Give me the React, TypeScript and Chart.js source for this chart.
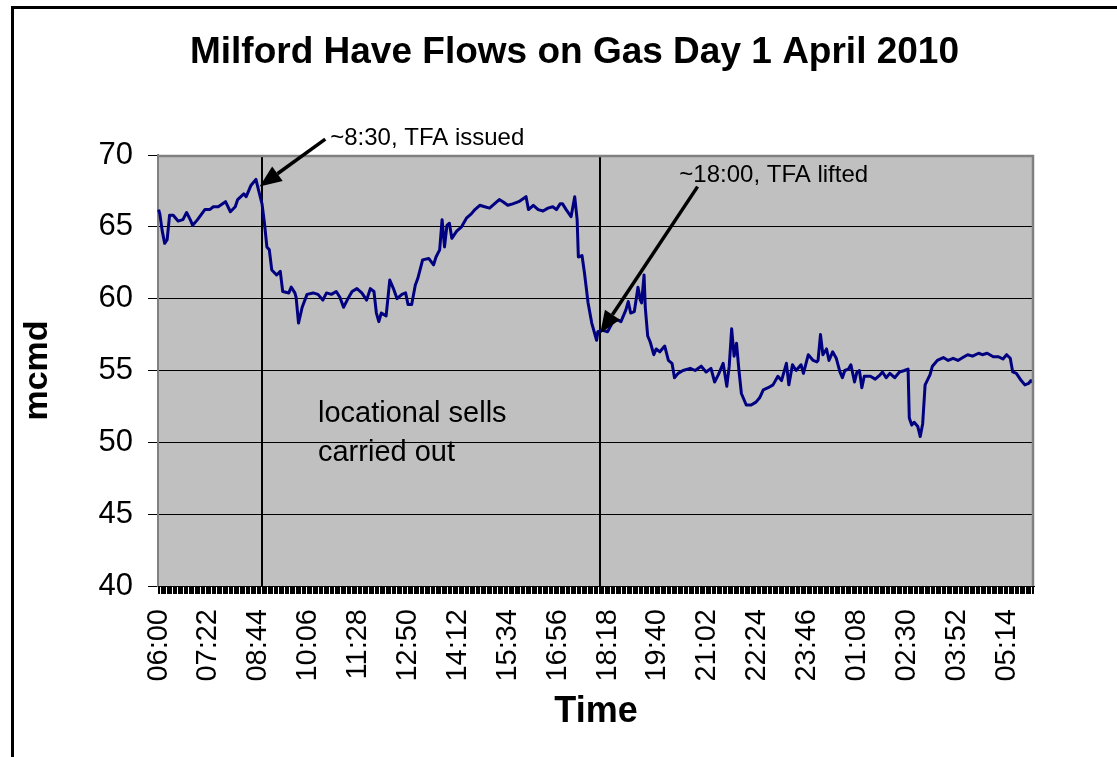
import React, { useEffect, useRef } from 'react';
import { Chart, registerables } from 'chart.js';

Chart.register(...registerables);

const FONT = '"Liberation Sans", Arial, Helvetica, sans-serif';

const chartTitle = 'Milford Have Flows on Gas Day 1 April 2010';
const yAxisTitle = 'mcmd';
const xAxisTitle = 'Time';
const yMin = 40;
const yMax = 70;
const yStep = 5;

// Visible tick labels on the category axis (every 82 minutes)
const tickLabels = [
  '06:00', '07:22', '08:44', '10:06', '11:28', '12:50', '14:12', '15:34', '16:56',
  '18:18', '19:40', '21:02', '22:24', '23:46', '01:08', '02:30', '03:52', '05:14',
];

function hhmm(m: number): string {
  const mm = ((m % 1440) + 1440) % 1440;
  return String(Math.floor(mm / 60)).padStart(2, '0') + ':' + String(mm % 60).padStart(2, '0');
}
// Gas day categories: 06:00 .. 05:58, one every 2 minutes
const categories: string[] = Array.from({ length: 720 }, (_, i) => hhmm(360 + 2 * i));

const sampleTimes = [
  '06:00', '06:02', '06:06', '06:10', '06:14', '06:18', '06:24', '06:32', '06:40', '06:46',
  '06:52', '06:56', '07:04', '07:16', '07:24', '07:30', '07:38', '07:50', '07:58', '08:06',
  '08:10', '08:20', '08:24', '08:32', '08:40', '08:44', '08:50', '08:54', '08:58', '09:02',
  '09:06', '09:14', '09:20', '09:24', '09:34', '09:38', '09:44', '09:46', '09:50', '09:56',
  '10:04', '10:14', '10:22', '10:30', '10:36', '10:44', '10:52', '10:58', '11:04', '11:10',
  '11:18', '11:26', '11:34', '11:42', '11:48', '11:54', '11:58', '12:02', '12:06', '12:14',
  '12:20', '12:26', '12:32', '12:40', '12:46', '12:50', '12:56', '13:02', '13:06', '13:14',
  '13:24', '13:32', '13:36', '13:42', '13:46', '13:50', '13:54', '13:58', '14:02', '14:10',
  '14:18', '14:26', '14:34', '14:40', '14:48', '14:56', '15:04', '15:12', '15:20', '15:26',
  '15:34', '15:42', '15:52', '16:04', '16:08', '16:16', '16:24', '16:32', '16:40', '16:48',
  '16:54', '17:00', '17:04', '17:10', '17:18', '17:24', '17:28', '17:30', '17:36', '17:40',
  '17:46', '17:52', '17:58', '18:00', '18:02', '18:10', '18:18', '18:28', '18:36', '18:40',
  '18:48', '18:52', '18:56', '19:02', '19:08', '19:12', '19:14', '19:18', '19:20', '19:24',
  '19:28', '19:34', '19:38', '19:44', '19:52', '19:58', '20:04', '20:08', '20:14', '20:22',
  '20:34', '20:42', '20:52', '21:00', '21:08', '21:14', '21:20', '21:28', '21:34', '21:38',
  '21:42', '21:46', '21:50', '21:54', '21:58', '22:06', '22:14', '22:22', '22:28', '22:34',
  '22:42', '22:50', '22:58', '23:04', '23:12', '23:16', '23:22', '23:28', '23:36', '23:40',
  '23:48', '23:56', '00:02', '00:04', '00:08', '00:12', '00:18', '00:22', '00:28', '00:34',
  '00:40', '00:44', '00:48', '00:54', '00:58', '01:04', '01:08', '01:12', '01:16', '01:20',
  '01:30', '01:38', '01:46', '01:50', '01:56', '02:02', '02:10', '02:18', '02:26', '02:32',
  '02:34', '02:38', '02:42', '02:48', '02:52', '02:56', '03:00', '03:08', '03:12', '03:20',
  '03:30', '03:38', '03:46', '03:54', '04:02', '04:10', '04:18', '04:28', '04:34', '04:42',
  '04:52', '05:00', '05:08', '05:14', '05:20', '05:24', '05:30', '05:38', '05:44', '05:50',
  '05:54', '05:58',
];

const flowMcmd = [
  66.2, 65.9, 64.7, 63.85, 64.1, 65.8, 65.8, 65.4, 65.5, 66.0,
  65.5, 65.1, 65.5, 66.2, 66.2, 66.4, 66.4, 66.75, 66.05, 66.4,
  66.9, 67.3, 67.1, 67.9, 68.3, 67.6, 66.6, 65.25, 63.6, 63.4,
  62.0, 61.65, 61.9, 60.5, 60.4, 60.8, 60.4, 60.1, 58.3, 59.4,
  60.3, 60.4, 60.3, 59.9, 60.4, 60.3, 60.5, 60.1, 59.4, 59.9,
  60.5, 60.7, 60.4, 59.9, 60.7, 60.5, 59.0, 58.4, 59.0, 58.8,
  61.3, 60.7, 60.0, 60.3, 60.4, 59.6, 59.6, 60.95, 61.4, 62.7,
  62.8, 62.35, 62.9, 63.4, 65.5, 63.6, 65.1, 65.25, 64.2, 64.7,
  65.0, 65.6, 65.9, 66.2, 66.5, 66.4, 66.3, 66.6, 66.9, 66.75,
  66.5, 66.6, 66.75, 67.1, 66.2, 66.5, 66.2, 66.1, 66.3, 66.4,
  66.2, 66.6, 66.6, 66.2, 65.7, 67.1, 65.5, 62.9, 63.0, 61.8,
  59.7, 58.3, 57.4, 57.1, 57.7, 57.8, 57.7, 58.5, 58.5, 58.4,
  59.2, 59.8, 59.0, 59.1, 60.8, 59.9, 59.7, 61.65, 59.4, 57.4,
  57.0, 56.1, 56.5, 56.3, 56.7, 55.7, 55.5, 54.5, 54.8, 55.0,
  55.15, 55.0, 55.3, 54.9, 55.15, 54.2, 54.7, 55.5, 53.9, 55.3,
  57.9, 56.0, 56.9, 55.0, 53.4, 52.6, 52.6, 52.8, 53.1, 53.65,
  53.8, 54.0, 54.6, 54.3, 55.5, 54.0, 55.4, 55.0, 55.4, 54.8,
  56.1, 55.7, 55.6, 55.7, 57.5, 56.1, 56.5, 55.7, 56.3, 55.85,
  54.9, 54.5, 55.0, 55.1, 55.4, 54.2, 54.9, 55.0, 53.8, 54.6,
  54.6, 54.4, 54.7, 54.9, 54.5, 54.8, 54.5, 54.9, 55.0, 55.1,
  51.7, 51.2, 51.4, 51.1, 50.4, 51.3, 54.0, 54.7, 55.3, 55.7,
  55.9, 55.7, 55.85, 55.7, 55.9, 56.1, 56.0, 56.2, 56.1, 56.2,
  55.96, 55.96, 55.8, 56.1, 55.85, 54.9, 54.8, 54.3, 54.0, 54.1,
  54.3, 54.15,
];

// Event markers (vertical lines) and notes, anchored in data coordinates
const markerTimes = ['08:50', '18:06'];
const arrowNotes = [
  { text: '~8:30, TFA issued', textTime: '10:42', textValue: 70.7, fromTime: '10:34', fromValue: 71.1, toTime: '08:46', toValue: 67.8 },
  { text: '~18:00, TFA lifted', textTime: '20:16', textValue: 68.14, fromTime: '20:46', fromValue: 67.8, toTime: '18:06', toValue: 57.6 },
];
const bodyNoteLines = ['locational sells', 'carried out'];
const bodyNoteTime = '10:22';
const bodyNoteValues = [51.42, 48.71];

function drawArrow(ctx: CanvasRenderingContext2D, x1: number, y1: number, x2: number, y2: number) {
  const head = 22;
  const half = 9;
  const ang = Math.atan2(y2 - y1, x2 - x1);
  const bx = x2 - head * Math.cos(ang);
  const by = y2 - head * Math.sin(ang);
  ctx.lineWidth = 3.5;
  ctx.beginPath();
  ctx.moveTo(x1, y1);
  ctx.lineTo(bx, by);
  ctx.stroke();
  ctx.beginPath();
  ctx.moveTo(x2, y2);
  ctx.lineTo(bx + half * Math.sin(ang), by - half * Math.cos(ang));
  ctx.lineTo(bx - half * Math.sin(ang), by + half * Math.cos(ang));
  ctx.closePath();
  ctx.fill();
}

const decorPlugin = {
  id: 'decor',
  afterLayout(chart: any) {
    // centre the title over the whole (partly cut-off) chart object
    const tb = chart.titleBlock;
    if (tb) {
      tb.left = 11;
      tb.right = 1138;
      tb.width = 1127;
    }
  },
  beforeDraw(chart: any) {
    const { ctx, chartArea: a } = chart;
    ctx.save();
    ctx.fillStyle = '#ffffff';
    ctx.fillRect(0, 0, chart.width, chart.height);
    ctx.strokeStyle = '#000000';
    ctx.lineWidth = 3;
    ctx.beginPath();
    ctx.moveTo(12.5, chart.height + 5);
    ctx.lineTo(12.5, 7.5);
    ctx.lineTo(chart.width + 5, 7.5);
    ctx.stroke();
    ctx.fillStyle = '#C0C0C0';
    ctx.fillRect(a.left, a.top, a.right - a.left, a.bottom - a.top);
    ctx.restore();
  },
  beforeDatasetsDraw(chart: any) {
    const { ctx, chartArea: a, scales } = chart;
    const x = scales.x;
    ctx.save();
    ctx.strokeStyle = '#000000';
    ctx.lineWidth = 2;
    markerTimes.forEach((t) => {
      const px = Math.round(x.getPixelForValue(categories.indexOf(t)));
      ctx.beginPath();
      ctx.moveTo(px, a.top);
      ctx.lineTo(px, a.bottom);
      ctx.stroke();
    });
    ctx.restore();
  },
  afterDatasetsDraw(chart: any) {
    const { ctx, chartArea: a, scales } = chart;
    const x = scales.x;
    const y = scales.y;
    const px = (t: string) => x.getPixelForValue(categories.indexOf(t));
    ctx.save();
    // plot frame (grey top / right)
    ctx.strokeStyle = '#808080';
    ctx.lineWidth = 2.5;
    ctx.beginPath();
    ctx.moveTo(a.left, a.top + 1);
    ctx.lineTo(a.right - 1, a.top + 1);
    ctx.lineTo(a.right - 1, a.bottom);
    ctx.stroke();
    ctx.strokeStyle = '#000000';
    ctx.lineWidth = 1;
    ctx.beginPath();
    ctx.moveTo(a.left, a.bottom + 0.5);
    ctx.lineTo(a.right, a.bottom + 0.5);
    ctx.stroke();

    // arrows + notes
    ctx.fillStyle = '#000000';
    ctx.strokeStyle = '#000000';
    ctx.font = '24px ' + FONT;
    ctx.textAlign = 'left';
    ctx.textBaseline = 'alphabetic';
    arrowNotes.forEach((n) => {
      drawArrow(ctx, px(n.fromTime), y.getPixelForValue(n.fromValue), px(n.toTime), y.getPixelForValue(n.toValue));
      ctx.fillText(n.text, px(n.textTime), y.getPixelForValue(n.textValue));
    });
    ctx.font = '29px ' + FONT;
    bodyNoteLines.forEach((line, i) => {
      ctx.fillText(line, px(bodyNoteTime), y.getPixelForValue(bodyNoteValues[i]));
    });
    ctx.restore();
  },
};

export default function App() {
  const canvasRef = useRef<HTMLCanvasElement | null>(null);

  useEffect(() => {
    const canvas = canvasRef.current;
    if (!canvas) return;
    const chart = new Chart(canvas, {
      type: 'line',
      data: {
        labels: categories,
        datasets: [
          {
            label: 'Milford Haven flow',
            data: sampleTimes.map((t, i) => ({ x: t, y: flowMcmd[i] })) as any,
            borderColor: '#000080',
            backgroundColor: '#000080',
            borderWidth: 3,
            pointRadius: 0,
            tension: 0,
            fill: false,
            borderJoinStyle: 'round',
          },
        ],
      },
      options: {
        responsive: false,
        animation: false,
        devicePixelRatio: 1,
        layout: { padding: { left: 0, right: 83, top: 0, bottom: 0 } },
        plugins: {
          legend: { display: false },
          tooltip: { enabled: false },
          title: {
            display: true,
            text: chartTitle,
            color: '#000000',
            font: { family: FONT, size: 37, weight: 'bold', lineHeight: 1.2 },
            padding: { top: 31, bottom: 79.6 },
          },
        },
        scales: {
          x: {
            type: 'category',
            offset: true,
            afterFit: (scale: any) => {
              scale.height = 171;
            },
            grid: {
              display: true,
              drawOnChartArea: false,
              drawTicks: true,
              tickLength: 8,
              color: '#000000',
              tickColor: '#000000',
              lineWidth: 1,
            },
            border: { display: true, color: '#000000', width: 1 },
            ticks: {
              autoSkip: false,
              maxRotation: 90,
              minRotation: 90,
              padding: 15,
              color: '#000000',
              font: { family: FONT, size: 29 },
              callback: function (this: any, val: any, idx: number) {
                const lab = categories[idx];
                return idx % 41 === 0 && tickLabels.includes(lab) ? lab : '';
              },
            },
            title: {
              display: true,
              text: xAxisTitle,
              color: '#000000',
              font: { family: FONT, size: 36, weight: 'bold', lineHeight: 1.2 },
              padding: { top: 0, bottom: 23.4 },
            },
          },
          y: {
            type: 'linear',
            min: yMin,
            max: yMax,
            afterFit: (scale: any) => {
              scale.width = 158;
            },
            grid: {
              display: true,
              color: '#000000',
              tickColor: '#000000',
              lineWidth: 1,
              drawTicks: true,
              tickLength: 10,
            },
            border: { display: true, color: '#808080', width: 2 },
            ticks: {
              stepSize: yStep,
              padding: 15,
              color: '#000000',
              font: { family: FONT, size: 31 },
            },
            title: {
              display: true,
              text: yAxisTitle,
              color: '#000000',
              font: { family: FONT, size: 34, weight: 'bold', lineHeight: 1.2 },
              padding: { top: 17.6, bottom: 0 },
            },
          },
        },
      },
      plugins: [decorPlugin],
    });
    return () => {
      chart.destroy();
    };
  }, []);

  return (
    <div style={{ position: 'fixed', left: 0, top: 0, width: 1117, height: 757, background: '#ffffff', overflow: 'hidden' }}>
      <canvas ref={canvasRef} width={1117} height={757} style={{ display: 'block', width: 1117, height: 757 }} />
    </div>
  );
}
